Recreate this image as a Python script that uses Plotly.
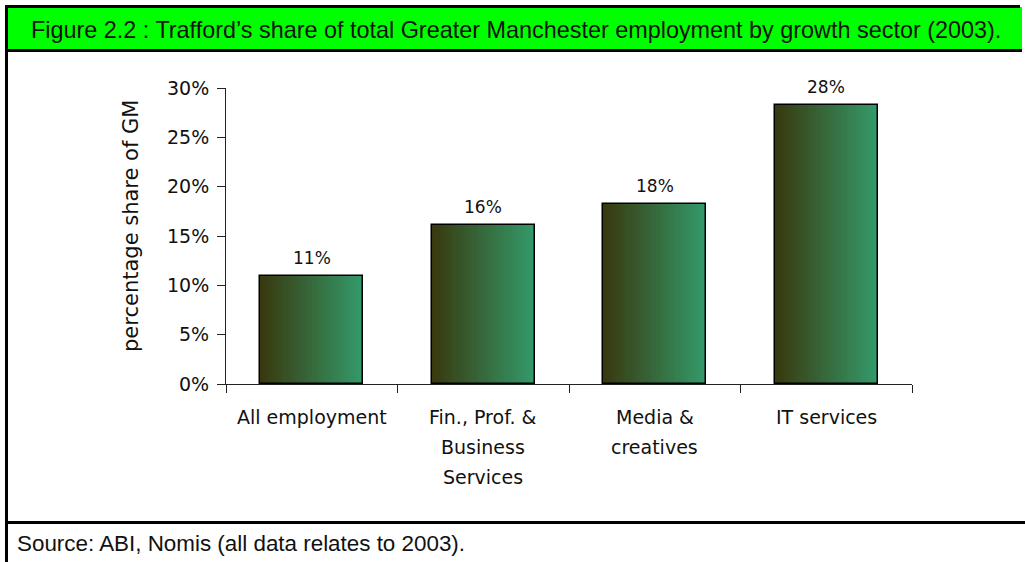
import plotly.graph_objects as go

categories = ["All employment", "Fin., Prof. & Business Services", "Media & creatives", "IT services"]
label_lines = [["All employment"], ["Fin., Prof. &", "Business", "Services"], ["Media &", "creatives"], ["IT services"]]
values = [10.95, 16.1, 18.2, 28.3]
value_labels = ["11%", "16%", "18%", "28%"]
y_ticks = [0, 5, 10, 15, 20, 25, 30]
y_tick_text = ["0%", "5%", "10%", "15%", "20%", "25%", "30%"]

title_text = "Figure 2.2 : Trafford\u2019s share of total Greater Manchester employment by growth sector (2003)."
source_text = "Source: ABI, Nomis (all data relates to 2003)."

FONT = "DejaVu Sans"
TFONT = "Liberation Sans"
W, H = 1025, 562
ML, MR, MT, MB = 226, 113, 88, 178
PW, PH = W - ML - MR, H - MT - MB
bar_width = 0.6
n_slices = 40
c0 = (56, 56, 14)
c1 = (52, 155, 106)


def px(x):
    return (x - ML) / PW


def py(y):
    return (H - MB - y) / PH


fig = go.Figure()
for i in range(n_slices):
    t = (i + 0.5) / n_slices
    col = tuple(round(a + (b - a) * t) for a, b in zip(c0, c1))
    fig.add_trace(go.Bar(
        x=categories, y=values,
        width=[bar_width / n_slices * 1.02] * len(values),
        offset=-bar_width / 2 + i * bar_width / n_slices,
        marker=dict(color="rgb(%d,%d,%d)" % col, line=dict(width=0)),
        hoverinfo="skip", showlegend=False,
    ))
fig.add_trace(go.Bar(
    x=categories, y=values, width=[bar_width] * len(values), offset=-bar_width / 2,
    marker=dict(color="rgba(0,0,0,0)", line=dict(color="black", width=1.5)),
    showlegend=False,
))

annotations = []
for cat, v, lab in zip(categories, values, value_labels):
    annotations.append(dict(x=cat, y=v, xref="x", yref="y", text=lab, showarrow=False,
                            yanchor="bottom", yshift=6, font=dict(family=FONT, size=17, color="#111")))
for cat, lines in zip(categories, label_lines):
    for j, ln in enumerate(lines):
        annotations.append(dict(x=cat, y=0, xref="x", yref="y", text=ln, showarrow=False,
                                yanchor="middle", yshift=-33 - 30 * j,
                                font=dict(family=FONT, size=19, color="#111")))
annotations.append(dict(x=0, y=0.5, xref="paper", yref="paper", text="percentage share of GM",
                        textangle=-90, showarrow=False, xanchor="center", yanchor="middle",
                        xshift=-95, yshift=10, font=dict(family=FONT, size=21, color="#111")))
annotations.append(dict(x=px(29), y=py(30), xref="paper", yref="paper", text=title_text,
                        showarrow=False, xanchor="left", yanchor="middle",
                        font=dict(family=TFONT, size=23.4, color="#111")))
annotations.append(dict(x=px(15), y=py(543), xref="paper", yref="paper", text=source_text,
                        showarrow=False, xanchor="left", yanchor="middle",
                        font=dict(family=TFONT, size=22.4, color="#111")))

shapes = [
    dict(type="rect", xref="paper", yref="paper", x0=px(8), x1=px(1022), y0=py(50), y1=py(7),
         fillcolor="#00ff00", line=dict(width=0), layer="below"),
    dict(type="line", xref="paper", yref="paper", x0=px(5), x1=px(1020), y0=py(6.5), y1=py(6.5),
         line=dict(color="black", width=3)),
    dict(type="line", xref="paper", yref="paper", x0=px(5), x1=px(1022), y0=py(50.5), y1=py(50.5),
         line=dict(color="black", width=3)),
    dict(type="line", xref="paper", yref="paper", x0=px(6.5), x1=px(6.5), y0=py(5), y1=py(562),
         line=dict(color="black", width=3)),
    dict(type="line", xref="paper", yref="paper", x0=px(5), x1=px(1025), y0=py(522.5), y1=py(522.5),
         line=dict(color="black", width=3)),
]

fig.update_layout(
    width=W, height=H,
    margin=dict(l=ML, r=MR, t=MT, b=MB),
    paper_bgcolor="white", plot_bgcolor="white",
    barmode="overlay", bargap=0,
    annotations=annotations, shapes=shapes,
    xaxis=dict(type="category", showticklabels=False, tickson="boundaries", ticks="outside",
               ticklen=8, tickcolor="#222", showline=True, linecolor="#222", linewidth=1,
               showgrid=False, zeroline=False, fixedrange=True),
    yaxis=dict(range=[0, 30], tickvals=y_ticks, ticktext=y_tick_text, ticks="outside", ticklen=8,
               tickcolor="#222", showline=True, linecolor="#222", linewidth=1, showgrid=False,
               zeroline=False, tickfont=dict(family=FONT, size=19, color="#111"),
               ticklabelstandoff=4, fixedrange=True),
)

fig.write_html("out.html")
